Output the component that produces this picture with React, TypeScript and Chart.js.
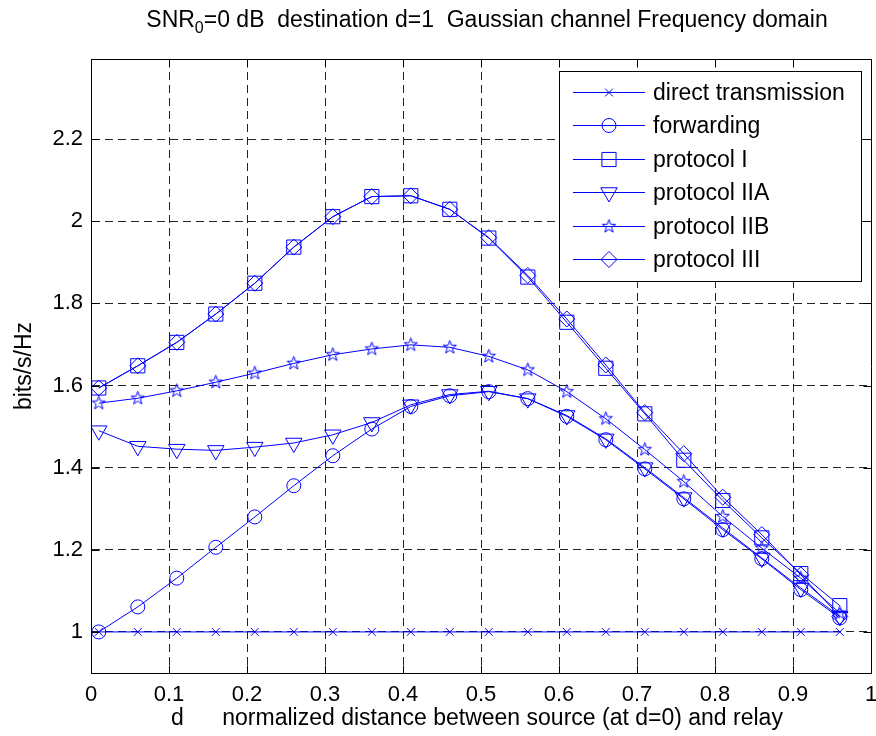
import React, { useEffect, useRef } from 'react';
import { Chart, registerables } from 'chart.js';

Chart.register(...registerables);

// ---------------- data ----------------
const xValues = [0.01, 0.06, 0.11, 0.16, 0.21, 0.26, 0.31, 0.36, 0.41, 0.46, 0.51, 0.56, 0.61, 0.66, 0.71, 0.76, 0.81, 0.86, 0.91, 0.96];
const directTransmission = [1, 1, 1, 1, 1, 1, 1, 1, 1, 1, 1, 1, 1, 1, 1, 1, 1, 1, 1, 1];
const forwarding = [1.0, 1.061, 1.131, 1.206, 1.28, 1.356, 1.429, 1.494, 1.549, 1.575, 1.585, 1.568, 1.525, 1.468, 1.397, 1.324, 1.249, 1.178, 1.103, 1.034];
const protocolI = [1.594, 1.648, 1.705, 1.774, 1.849, 1.937, 2.011, 2.06, 2.062, 2.029, 1.959, 1.864, 1.754, 1.642, 1.531, 1.418, 1.32, 1.229, 1.142, 1.064];
const protocolIIA = [1.49, 1.452, 1.445, 1.442, 1.45, 1.46, 1.48, 1.51, 1.553, 1.578, 1.586, 1.568, 1.527, 1.47, 1.4, 1.327, 1.253, 1.18, 1.107, 1.038];
const protocolIIB = [1.557, 1.569, 1.587, 1.608, 1.63, 1.654, 1.675, 1.689, 1.699, 1.693, 1.671, 1.638, 1.585, 1.519, 1.444, 1.366, 1.281, 1.204, 1.131, 1.046];
const protocolIII = [1.594, 1.648, 1.705, 1.774, 1.849, 1.937, 2.011, 2.06, 2.062, 2.029, 1.96, 1.868, 1.762, 1.65, 1.534, 1.434, 1.328, 1.237, 1.139, 1.038];

const seriesNames = ['direct transmission', 'forwarding', 'protocol I', 'protocol IIA', 'protocol IIB', 'protocol III'];

const xTicks = [0, 0.1, 0.2, 0.3, 0.4, 0.5, 0.6, 0.7, 0.8, 0.9, 1];
const xTickLabels = ['0', '0.1', '0.2', '0.3', '0.4', '0.5', '0.6', '0.7', '0.8', '0.9', '1'];
const yTicks = [1, 1.2, 1.4, 1.6, 1.8, 2, 2.2];
const yTickLabels = ['1', '1.2', '1.4', '1.6', '1.8', '2', '2.2'];

const titleMain = 'SNR';
const titleSub = '0';
const titleRest = '=0 dB  destination d=1  Gaussian channel Frequency domain';
const xLabel = 'd      normalized distance between source (at d=0) and relay';
const yLabel = 'bits/s/Hz';

// ---------------- styles ----------------
const FONT = "'Liberation Sans', Arial, Helvetica, sans-serif";
const BLUE = '#0000ff';
const W = 876;
const H = 736;

type MarkerKind = 'x' | 'circle' | 'square' | 'tri' | 'star' | 'diamond';
const markerKinds: MarkerKind[] = ['x', 'circle', 'square', 'tri', 'star', 'diamond'];
const markerRadius: Record<MarkerKind, number> = { x: 5.5, circle: 7, square: 10, tri: 9.5, star: 7, diamond: 8 };

function makeStarCanvas(r: number): HTMLCanvasElement {
  const size = Math.ceil(r * 2 + 3);
  const c = document.createElement('canvas');
  c.width = size;
  c.height = size;
  const ctx = c.getContext('2d')!;
  const cx = size / 2;
  const cy = size / 2;
  const inner = r * 0.4;
  ctx.beginPath();
  for (let i = 0; i < 10; i++) {
    const rad = i % 2 === 0 ? r : inner;
    const a = -Math.PI / 2 + (i * Math.PI) / 5;
    const px = cx + Math.cos(a) * rad;
    const py = cy + Math.sin(a) * rad;
    if (i === 0) ctx.moveTo(px, py);
    else ctx.lineTo(px, py);
  }
  ctx.closePath();
  ctx.strokeStyle = BLUE;
  ctx.lineWidth = 1;
  ctx.stroke();
  return c;
}

function drawMarker(ctx: CanvasRenderingContext2D, kind: MarkerKind, x: number, y: number, star: HTMLCanvasElement) {
  const r = markerRadius[kind];
  ctx.save();
  ctx.strokeStyle = BLUE;
  ctx.lineWidth = 1;
  ctx.beginPath();
  if (kind === 'x') {
    const d = r * Math.SQRT1_2;
    ctx.moveTo(x - d, y - d);
    ctx.lineTo(x + d, y + d);
    ctx.moveTo(x - d, y + d);
    ctx.lineTo(x + d, y - d);
    ctx.stroke();
  } else if (kind === 'circle') {
    ctx.arc(x, y, r, 0, Math.PI * 2);
    ctx.stroke();
  } else if (kind === 'square') {
    const s = r * Math.SQRT1_2;
    ctx.rect(x - s, y - s, 2 * s, 2 * s);
    ctx.stroke();
  } else if (kind === 'tri') {
    for (let i = 0; i < 3; i++) {
      const a = Math.PI + (i * 2 * Math.PI) / 3;
      const px = x + Math.sin(a) * r;
      const py = y - Math.cos(a) * r;
      if (i === 0) ctx.moveTo(px, py);
      else ctx.lineTo(px, py);
    }
    ctx.closePath();
    ctx.stroke();
  } else if (kind === 'diamond') {
    ctx.moveTo(x, y - r);
    ctx.lineTo(x + r, y);
    ctx.lineTo(x, y + r);
    ctx.lineTo(x - r, y);
    ctx.closePath();
    ctx.stroke();
  } else if (kind === 'star') {
    ctx.drawImage(star, x - star.width / 2, y - star.height / 2);
  }
  ctx.restore();
}

export default function App() {
  const canvasRef = useRef<HTMLCanvasElement | null>(null);

  useEffect(() => {
    const canvas = canvasRef.current;
    if (!canvas) return;
    const star = makeStarCanvas(markerRadius.star);

    const seriesValues = [directTransmission, forwarding, protocolI, protocolIIA, protocolIIB, protocolIII];
    const pointStyles: any[] = ['crossRot', 'circle', 'rect', 'triangle', star, 'rectRot'];

    const datasets = seriesValues.map((vals, i) => ({
      label: seriesNames[i],
      data: xValues.map((x, j) => ({ x, y: vals[j] })),
      borderColor: BLUE,
      backgroundColor: 'rgba(0,0,0,0)',
      borderWidth: 1,
      pointStyle: pointStyles[i],
      pointRadius: markerRadius[markerKinds[i]],
      pointRotation: markerKinds[i] === 'tri' ? 180 : 0,
      pointBorderColor: BLUE,
      pointBackgroundColor: 'rgba(0,0,0,0)',
      pointBorderWidth: 1,
      tension: 0,
      fill: false,
    }));

    const decor = {
      id: 'decor',
      afterDraw(chart: any) {
        const ctx: CanvasRenderingContext2D = chart.ctx;
        const a = chart.chartArea;
        const xs = chart.scales.x;
        const ys = chart.scales.y;
        ctx.save();
        // axes box
        ctx.strokeStyle = '#000';
        ctx.lineWidth = 1;
        const L = Math.round(a.left) + 0.5;
        const R = Math.round(a.right) + 0.5;
        const T = Math.round(a.top) + 0.5;
        const B = Math.round(a.bottom) + 0.5;
        ctx.beginPath();
        ctx.rect(L, T, R - L, B - T);
        ctx.stroke();
        // inward ticks
        const tl = 8;
        ctx.beginPath();
        xTicks.forEach((v) => {
          const px = Math.round(xs.getPixelForValue(v)) + 0.5;
          ctx.moveTo(px, B);
          ctx.lineTo(px, B - tl);
          ctx.moveTo(px, T);
          ctx.lineTo(px, T + tl);
        });
        yTicks.forEach((v) => {
          const py = Math.round(ys.getPixelForValue(v)) + 0.5;
          ctx.moveTo(L, py);
          ctx.lineTo(L + tl, py);
          ctx.moveTo(R, py);
          ctx.lineTo(R - tl, py);
        });
        ctx.stroke();

        // title with subscript
        ctx.fillStyle = '#000';
        ctx.textBaseline = 'alphabetic';
        ctx.textAlign = 'left';
        const mainFont = `23px ${FONT}`;
        const subFont = `16px ${FONT}`;
        ctx.font = mainFont;
        const w1 = ctx.measureText(titleMain).width;
        const w3 = ctx.measureText(titleRest).width;
        ctx.font = subFont;
        const w2 = ctx.measureText(titleSub).width;
        const cx = (a.left + a.right) / 2;
        let tx = cx + 6 - (w1 + w2 + w3) / 2;
        const tb = 27;
        ctx.font = mainFont;
        ctx.fillText(titleMain, tx, tb);
        tx += w1;
        ctx.font = subFont;
        ctx.fillText(titleSub, tx, tb + 6);
        tx += w2;
        ctx.font = mainFont;
        ctx.fillText(titleRest, tx, tb);

        // x label
        ctx.font = `23px ${FONT}`;
        ctx.textAlign = 'center';
        ctx.textBaseline = 'middle';
        ctx.fillText(xLabel, cx - 4, 719);

        // y label
        ctx.save();
        ctx.translate(25, (a.top + a.bottom) / 2);
        ctx.rotate(-Math.PI / 2);
        ctx.fillText(yLabel, 0, 0);
        ctx.restore();

        // legend
        const lx = 559;
        const ly = 71;
        const lw = 302;
        const lh = 210;
        ctx.fillStyle = '#fff';
        ctx.fillRect(lx, ly, lw, lh);
        ctx.strokeStyle = '#000';
        ctx.lineWidth = 1;
        ctx.strokeRect(lx + 0.5, ly + 0.5, lw, lh);
        ctx.font = `23px ${FONT}`;
        ctx.textAlign = 'left';
        ctx.textBaseline = 'middle';
        seriesNames.forEach((name, i) => {
          const ry = Math.round(91.7 + i * 33.5) + 0.5;
          ctx.strokeStyle = BLUE;
          ctx.beginPath();
          ctx.moveTo(573, ry);
          ctx.lineTo(645, ry);
          ctx.stroke();
          drawMarker(ctx, markerKinds[i], 609, ry, star);
          ctx.fillStyle = '#000';
          ctx.fillText(name, 653, ry + 1);
        });
        ctx.restore();
      },
    };

    const chart = new Chart(canvas, {
      type: 'line',
      data: { datasets },
      options: {
        animation: false,
        responsive: false,
        devicePixelRatio: 1,
        layout: { autoPadding: false, padding: { top: 59, right: 5, left: 0, bottom: 0 } },
        plugins: {
          legend: { display: false },
          title: { display: false },
          tooltip: { enabled: false },
        },
        scales: {
          x: {
            type: 'linear',
            min: 0,
            max: 1,
            afterBuildTicks: (scale: any) => {
              scale.ticks = xTicks.map((v) => ({ value: v }));
            },
            afterFit: (scale: any) => {
              scale.height = 63;
              scale.paddingLeft = 0;
              scale.paddingRight = 0;
            },
            ticks: {
              autoSkip: false,
              maxRotation: 0,
              padding: 9,
              color: '#000',
              font: { family: FONT, size: 22 },
              callback: (_v: any, i: number) => xTickLabels[i],
            },
            grid: { color: '#222', lineWidth: 1, drawTicks: false },
            border: { display: true, color: '#000', width: 1, dash: [8, 5] },
          },
          y: {
            type: 'linear',
            min: 0.9,
            max: 2.395,
            afterBuildTicks: (scale: any) => {
              scale.ticks = yTicks.map((v) => ({ value: v }));
            },
            afterFit: (scale: any) => {
              scale.width = 91;
              scale.paddingTop = 0;
              scale.paddingBottom = 0;
            },
            ticks: {
              autoSkip: false,
              padding: 8,
              color: '#000',
              font: { family: FONT, size: 22 },
              callback: (_v: any, i: number) => yTickLabels[i],
            },
            grid: { color: '#222', lineWidth: 1, drawTicks: false },
            border: { display: true, color: '#000', width: 1, dash: [8, 5] },
          },
        },
      },
      plugins: [decor],
    } as any);

    return () => {
      chart.destroy();
    };
  }, []);

  return (
    <div style={{ position: 'fixed', left: 0, top: 0, width: W, height: H, background: '#fff' }}>
      <canvas ref={canvasRef} width={W} height={H} style={{ display: 'block', width: W, height: H }} />
    </div>
  );
}
